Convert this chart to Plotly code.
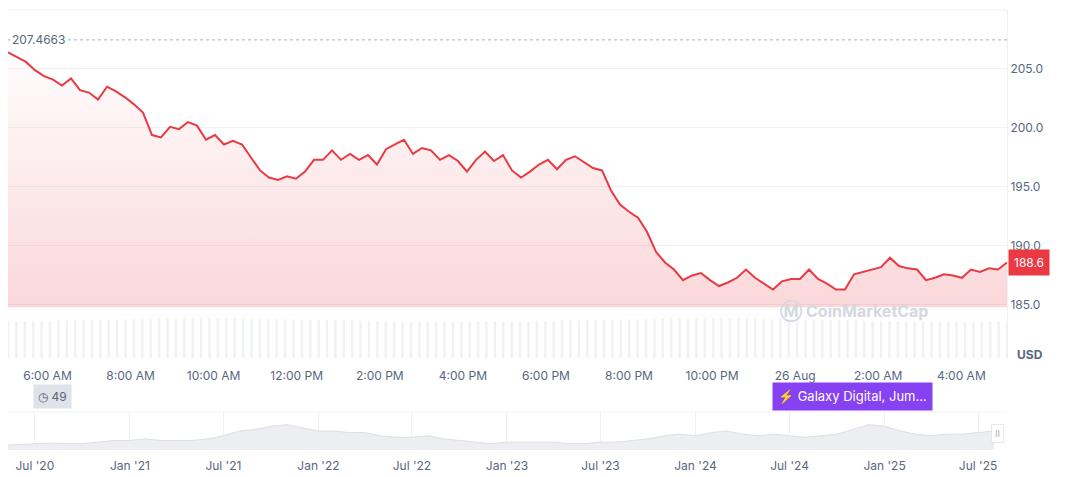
import pandas as pd
import plotly.graph_objects as go

# precio (USD), muestras uniformes entre 25 Aug 05:03 y 26 Aug 05:06
precios = [206.4, 206.0, 205.6, 204.9, 204.4, 204.1, 203.6, 204.2, 203.2, 203.0,
           202.4, 203.5, 203.1, 202.6, 202.0, 201.3, 199.4, 199.2, 200.1, 199.9,
           200.5, 200.2, 199.0, 199.4, 198.6, 198.9, 198.6, 197.5, 196.4, 195.8,
           195.6, 195.9, 195.7, 196.3, 197.3, 197.3, 198.1, 197.3, 197.8, 197.3,
           197.7, 196.9, 198.2, 198.6, 199.0, 197.8, 198.3, 198.1, 197.3, 197.7,
           197.2, 196.3, 197.3, 198.0, 197.2, 197.7, 196.4, 195.8, 196.3, 196.9,
           197.3, 196.5, 197.3, 197.6, 197.1, 196.6, 196.4, 194.7, 193.5, 192.9,
           192.4, 191.2, 189.5, 188.6, 188.0, 187.1, 187.5, 187.7, 187.1, 186.6,
           186.9, 187.3, 188.0, 187.3, 186.8, 186.3, 187.0, 187.2, 187.2, 188.0,
           187.2, 186.8, 186.3, 186.3, 187.6, 187.8, 188.0, 188.2, 189.0, 188.3,
           188.1, 188.0, 187.1, 187.3, 187.6, 187.5, 187.3, 188.0, 187.8, 188.1,
           188.0, 188.6]
precio_ref = 207.4663
precio_actual = 188.6

# volumen (barras grises al pie del grafico)
volumenes = [66, 66, 66, 67, 67, 67, 68, 68, 68, 68, 69, 69, 69, 69, 70, 70,
             70, 70, 71, 71, 71, 71, 71, 72, 72, 72, 72, 72, 71, 71, 71, 70,
             70, 70, 70, 69, 69, 69, 68, 68, 68, 68, 67, 67, 67, 67, 66, 66,
             66, 66, 66, 66, 66, 66, 66, 66, 66, 66, 66, 66,
             66, 66, 66, 67, 67, 67, 68, 68, 68, 68, 69, 69, 69, 69, 70, 70,
             70, 70, 71, 71, 71, 71, 71, 72, 72, 72, 72, 72, 71, 71, 71, 70,
             70, 70, 70, 69, 69, 69, 68, 68, 68, 68, 67, 67, 67, 67, 66, 66,
             66, 66, 66, 66, 66, 66, 66, 66, 66, 66, 66, 66]

etiquetas_x = ["6:00 AM", "8:00 AM", "10:00 AM", "12:00 PM", "2:00 PM", "4:00 PM",
               "6:00 PM", "8:00 PM", "10:00 PM", "26 Aug", "2:00 AM", "4:00 AM"]

# historico (navegador inferior), mensual
hist_meses = pd.date_range("2020-05-01", "2025-08-01", freq="MS")
hist_valores = [.15, .18, .2, .22, .2, .2, .25, .3, .3, .35, .3, .3, .3, .35, .45, .6,
                .65, .75, .8, .7, .6, .6, .55, .55, .45, .4, .4, .45, .35, .3, .25, .2,
                .25, .25, .25, .25, .2, .2, .25, .25, .3, .35, .45, .5, .45, .55, .6, .5,
                .45, .5, .45, .4, .45, .5, .65, .8, .75, .6, .5, .45, .5, .5, .55, .6]
etiquetas_hist = ["Jul '20", "Jan '21", "Jul '21", "Jan '22", "Jul '22", "Jan '23",
                  "Jul '23", "Jan '24", "Jul '24", "Jan '25", "Jul '25"]

H = 477
def py(px):
    return 1 - px / H

inicio = pd.Timestamp("2025-08-25 05:03")
fin = pd.Timestamp("2025-08-26 05:06")
tiempos = pd.date_range(inicio, fin, periods=len(precios))
t_vol = pd.date_range(inicio, fin, periods=len(volumenes))
ticks_x = pd.date_range("2025-08-25 06:00", periods=len(etiquetas_x), freq="2h")
ticks_hist = pd.date_range("2020-07-01", periods=len(etiquetas_hist), freq="6MS")

rojo = "#ea3943"
fuente = "Inter"

fig = go.Figure()
fig.add_trace(go.Bar(x=t_vol, y=volumenes, marker_color="#f0f2f5", marker_line_width=0,
                     xaxis="x", yaxis="y2", hoverinfo="skip"))
fig.add_trace(go.Scatter(x=tiempos, y=[184.8] * len(precios), mode="lines",
                         line=dict(width=0), hoverinfo="skip"))
fig.add_trace(go.Scatter(x=tiempos, y=precios, mode="lines", line=dict(color=rojo, width=2),
                         fill="tonexty",
                         fillgradient=dict(type="vertical",
                                           colorscale=[[0, "rgba(234,57,67,0.2)"],
                                                       [1, "rgba(234,57,67,0.01)"]])))
fig.add_trace(go.Scatter(x=[inicio, fin], y=[precio_ref, precio_ref], mode="lines",
                         line=dict(color="#a6b0c3", width=1, dash="dot"), hoverinfo="skip"))
fig.add_trace(go.Scatter(x=hist_meses, y=hist_valores, mode="lines", fill="tozeroy",
                         line=dict(color="#dcdfe4", width=1), fillcolor="#eceef1",
                         xaxis="x3", yaxis="y3", hoverinfo="skip"))

x0, x1 = 8 / 1072, 1007 / 1072
fig.update_layout(
    width=1072, height=477, margin=dict(l=0, r=0, t=0, b=0),
    paper_bgcolor="white", plot_bgcolor="white", showlegend=False, bargap=0.7,
    font=dict(family=fuente, color="#58667e", size=12),
    xaxis=dict(domain=[x0, x1], range=[inicio, fin], tickvals=ticks_x, ticktext=etiquetas_x,
               showgrid=False, zeroline=False, showline=False, ticks="", automargin=False,
               ticklabelstandoff=9),
    yaxis=dict(domain=[py(358), py(10)], range=[180.5, 210], side="right", automargin=False,
               tickvals=[185, 190, 195, 200, 205], ticktext=["185.0", "190.0", "195.0", "200.0", "205.0"],
               gridcolor="#eff2f5", zeroline=False, showline=True, linecolor="#eff2f5", ticks=""),
    yaxis2=dict(domain=[py(358), py(10)], range=[0, 72 * 8.7], overlaying="y",
                visible=False),
    xaxis3=dict(domain=[x0, x1], range=["2020-05-10", "2025-08-26"], anchor="y3",
                tickvals=ticks_hist, ticktext=etiquetas_hist, showgrid=True, automargin=False,
                gridcolor="#eff2f5", zeroline=False, ticks="", ticklabelstandoff=7),
    yaxis3=dict(domain=[py(450), py(412)], range=[0, 1.2], visible=False),
)
fig.add_shape(type="line", xref="paper", yref="paper", x0=x0, x1=x1, y0=py(412), y1=py(412),
              line=dict(color="#eff2f5", width=1))
fig.add_shape(type="line", xref="paper", yref="paper", x0=x0, x1=x1, y0=py(10), y1=py(10),
              line=dict(color="#eff2f5", width=1))

fig.add_annotation(xref="paper", yref="y", x=10 / 1072, y=precio_ref, text=f"{precio_ref:.4f}",
                   showarrow=False, xanchor="left", yanchor="middle",
                   font=dict(size=12, color="#58667e"), bgcolor="white")
fig.add_annotation(xref="paper", yref="y", x=1008 / 1072, y=precio_actual, text=f"{precio_actual}",
                   showarrow=False, xanchor="left", yanchor="middle",
                   font=dict(size=12, color="white"), bgcolor=rojo, borderpad=5)
fig.add_annotation(xref="paper", yref="paper", x=1045 / 1072, y=py(354), text="<b>USD</b>",
                   showarrow=False, xanchor="right", yanchor="middle",
                   font=dict(size=12, color="#58667e"))
fig.add_annotation(xref="paper", yref="paper", x=930 / 1072, y=py(311), text="<b>Ⓜ CoinMarketCap</b>",
                   showarrow=False, yanchor="middle", font=dict(size=16, color="#d3d8df"))
fig.add_annotation(xref="paper", yref="paper", x=933 / 1072, y=py(396),
                   text="⚡ Galaxy Digital, Jum...", showarrow=False, yanchor="middle",
                   font=dict(size=13, color="white"), bgcolor="#8541f2", borderpad=5)
fig.add_annotation(xref="paper", yref="paper", x=33 / 1072, y=py(396), text="◷ 49",
                   showarrow=False, yanchor="middle", font=dict(size=12, color="#58667e"),
                   bgcolor="#dfe2e8", borderpad=4)
fig.add_annotation(xref="paper", yref="paper", x=1004 / 1072, y=py(433), text="II",
                   showarrow=False, yanchor="middle", font=dict(size=9, color="#a6b0c3"),
                   bgcolor="white", bordercolor="#e6e8ec", borderpad=3)

fig.write_html("out.html", post_script="document.body.style.margin='0';",
               config={"displayModeBar": False})
